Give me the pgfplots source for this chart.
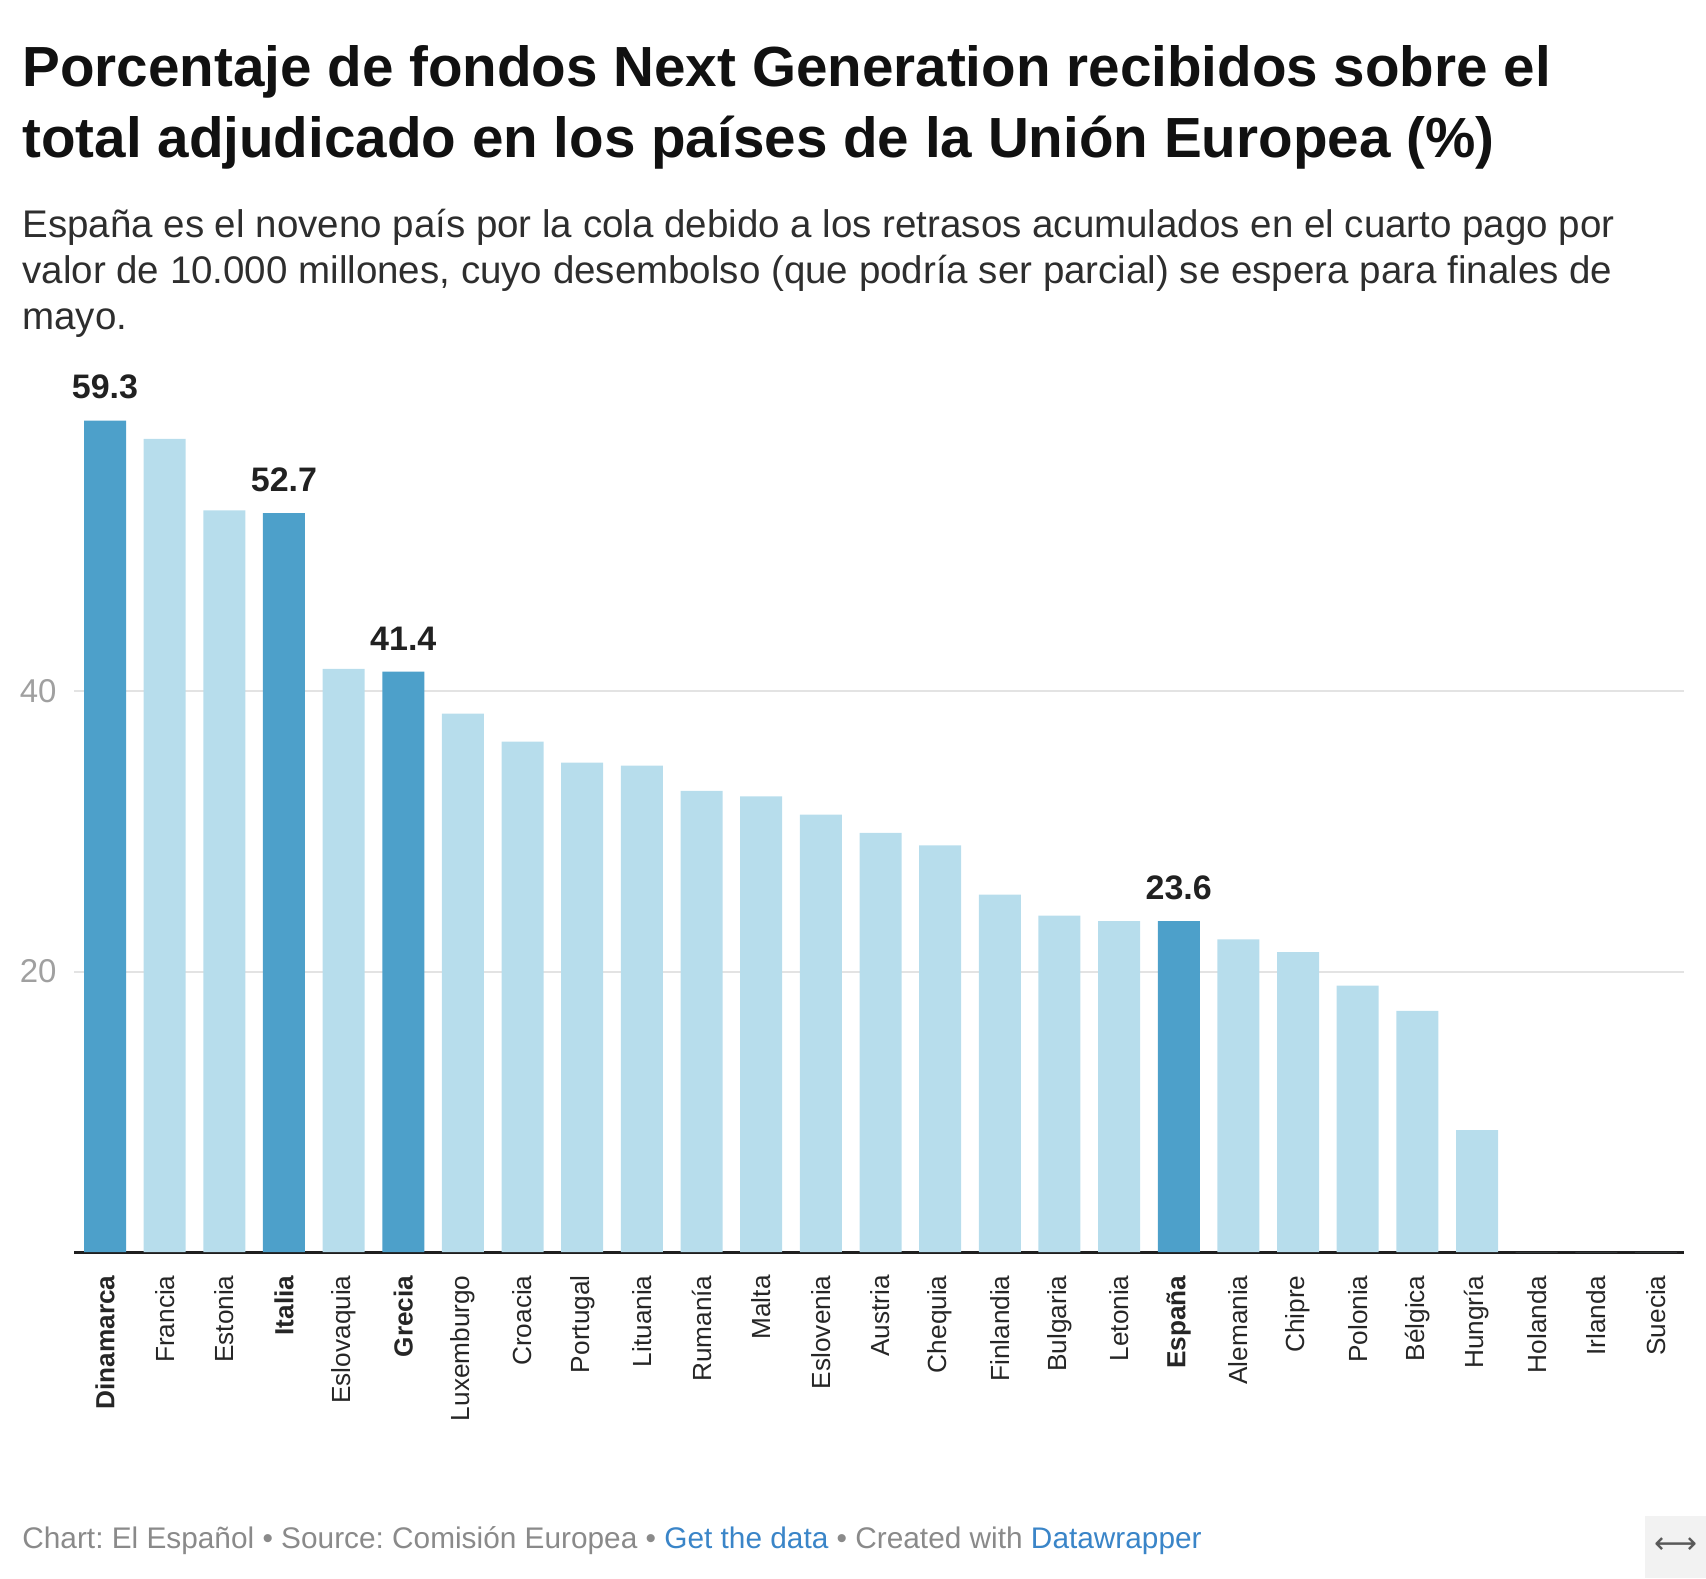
\documentclass[border=0pt]{standalone}
\usepackage{pgfplots}
\pgfplotsset{compat=1.18}
\usepackage{fontspec}
\setmainfont{Liberation Sans}
\newfontfamily\symfont{DejaVu Sans}
\definecolor{lightbar}{HTML}{B7DDEC}
\definecolor{darkbar}{HTML}{4DA0CA}
\definecolor{gridc}{HTML}{E3E3E3}
\definecolor{tickc}{HTML}{A0A0A0}
\definecolor{footc}{HTML}{8A8A8A}
\definecolor{linkc}{HTML}{3A85C8}
\definecolor{titlec}{HTML}{111111}
\definecolor{subc}{HTML}{2E2E2E}
\definecolor{boxc}{HTML}{F2F2F2}
\frenchspacing

\begin{document}
\begin{tikzpicture}
\path[use as bounding box] (0,0) rectangle (853pt,-789pt);
% title
\node[anchor=base west, inner sep=0pt, text=titlec, font=\fontsize{28.3pt}{34pt}\selectfont\bfseries] at (11pt,-43.5pt) {Porcentaje de fondos Next Generation recibidos sobre el};
\node[anchor=base west, inner sep=0pt, text=titlec, font=\fontsize{28.3pt}{34pt}\selectfont\bfseries] at (11pt,-79pt) {total adjudicado en los países de la Unión Europea (\%)};
% subtitle
\node[anchor=base west, inner sep=0pt, text=subc, font=\fontsize{19.25pt}{23pt}\selectfont] at (11pt,-118.5pt) {España es el noveno país por la cola debido a los retrasos acumulados en el cuarto pago por};
\node[anchor=base west, inner sep=0pt, text=subc, font=\fontsize{19.25pt}{23pt}\selectfont] at (11pt,-141.8pt) {valor de 10.000 millones, cuyo desembolso (que podría ser parcial) se espera para finales de};
\node[anchor=base west, inner sep=0pt, text=subc, font=\fontsize{19.25pt}{23pt}\selectfont] at (11pt,-164.8pt) {mayo.};

\begin{axis}[
  at={(37pt,-626pt)}, anchor=south west,
  scale only axis, width=805pt, height=434.6pt,
  xmin=-0.52, xmax=26.47, ymin=0, ymax=62,
  clip=false,
  axis x line*=bottom, axis y line*=left,
  x axis line style={line width=1.5pt, color=black!88},
  y axis line style={draw=none},
  major tick length=0pt,
  ytick={20,40},
  ymajorgrids,
  major grid style={gridc, line width=1pt},
  /pgf/number format/assume math mode=true,
  yticklabel style={anchor=east, inner sep=0pt, text=tickc, font=\fontsize{16.5pt}{18pt}\selectfont},
  yticklabel shift=8.5pt,
  xtick={0,...,26},
  xticklabels={\textbf{Dinamarca},Francia,Estonia,\textbf{Italia},Eslovaquia,\textbf{Grecia},Luxemburgo,Croacia,Portugal,Lituania,Rumanía,Malta,Eslovenia,Austria,Chequia,Finlandia,Bulgaria,Letonia,\textbf{España},Alemania,Chipre,Polonia,Bélgica,Hungría,Holanda,Irlanda,Suecia},
  xticklabel style={rotate=90, anchor=east, inner sep=0pt, text=black!85, font=\fontsize{13.1pt}{15pt}\selectfont},
  xticklabel shift=11.5pt,
]
\addplot[ybar, fill=lightbar, draw=none, bar width=21pt, bar shift=0pt] coordinates {
 (1,58.0) (2,52.9) (4,41.6) (6,38.4) (7,36.4) (8,34.9) (9,34.7) (10,32.9)
 (11,32.5) (12,31.2) (13,29.9) (14,29.0) (15,25.5) (16,24.0) (17,23.6)
 (19,22.3) (20,21.4) (21,19.0) (22,17.2) (23,8.7) (24,0) (25,0) (26,0)
};
\addplot[ybar, fill=darkbar, draw=none, bar width=21pt, bar shift=0pt,
  nodes near coords,
  nodes near coords style={anchor=south, inner sep=0pt, yshift=10.5pt, text=black!87, font=\fontsize{17pt}{19pt}\selectfont\bfseries}] coordinates {
 (0,59.3) (3,52.7) (5,41.4) (18,23.6)
};
\end{axis}

% footer
\node[anchor=base west, inner sep=0pt, text=footc, font=\fontsize{14.9pt}{17pt}\selectfont] at (11pt,-774pt) {Chart: El Español • Source: Comisión Europea • \textcolor{linkc}{Get the data} • Created with \textcolor{linkc}{Datawrapper}};
\fill[boxc] (822.5pt,-758pt) rectangle (853pt,-789pt);
\node[inner sep=0pt, text=black!65, font=\symfont\fontsize{15pt}{17pt}\selectfont] at (838pt,-773pt) {⟷};
\end{tikzpicture}
\end{document}
